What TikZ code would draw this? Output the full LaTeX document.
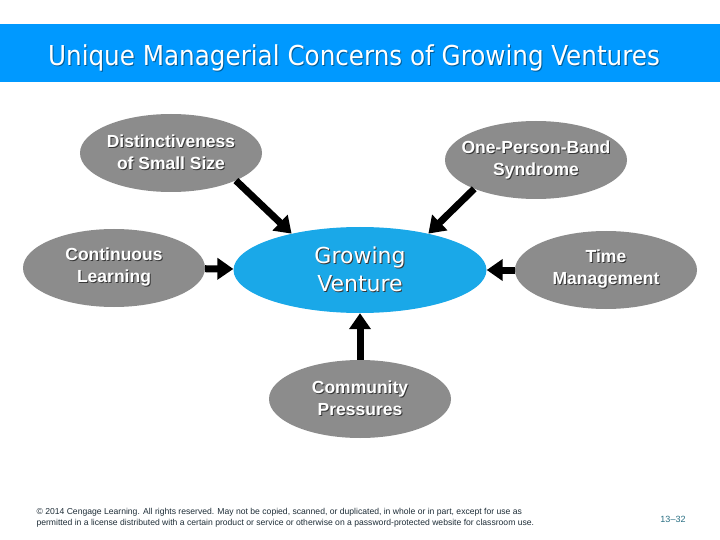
\documentclass[tikz,border=0pt]{standalone}
\usepackage{fontspec}
\setmainfont{Liberation Sans}
\newfontfamily\titlefont{DejaVu Sans Condensed}
\newfontfamily\venturefont{DejaVu Sans}
\usetikzlibrary{shapes.geometric,arrows.meta}
\definecolor{barblue}{RGB}{0,153,255}
\definecolor{ventureblue}{RGB}{26,168,232}
\definecolor{bubblegray}{RGB}{140,140,140}
\definecolor{shadowgray}{RGB}{55,55,55}
\definecolor{footdark}{RGB}{30,45,55}
\definecolor{footteal}{RGB}{40,110,130}
\newcommand{\shtxt}[2][shadowgray]{\leavevmode\rlap{\kern1pt\raisebox{-1pt}{\color{#1}#2}}#2}
\tikzset{
  flowarrow/.style={-{Triangle[length=16pt,width=21pt]}, line width=7pt},
  concern/.style={ellipse, fill=bubblegray, text=white, minimum width=182pt, minimum height=78pt, inner xsep=-15pt, inner ysep=-10pt, align=center, font=\bfseries\fontsize{17.5}{22}\selectfont},
  venture/.style={ellipse, fill=ventureblue, text=white, minimum width=253pt, minimum height=86pt, inner sep=0pt, align=center, font=\venturefont\fontsize{22}{28}\selectfont},
  footnote/.style={anchor=west, align=left, text=footdark, font=\fontsize{8.6}{11}\selectfont}
}

\begin{document}
\begin{tikzpicture}[x=1pt, y=-1pt]
  \useasboundingbox (0,0) rectangle (720,540);
  \fill[barblue] (0,24) rectangle (720,82);
  \node[text=white, anchor=base, font=\titlefont\fontsize{27.4}{32}\selectfont] (title) at (354,66) {\shtxt[barblue!60!black]{Unique Managerial Concerns of Growing Ventures}};

  \node[venture] (grow) at (360,270) {\shtxt{Growing}\\\shtxt{Venture}};
  \node[concern] (dist) at (171,153) {\shtxt{Distinctiveness}\\\shtxt{of Small Size}};
  \node[concern] (band) at (536,160) {\shtxt{One-Person-Band}\\\shtxt{Syndrome}};
  \node[concern] (cont) at (114,268) {\shtxt{Continuous}\\\shtxt{Learning}};
  \node[concern] (time) at (606,270) {\shtxt{Time}\\\shtxt{Management}};
  \node[concern] (comm) at (360,399) {\shtxt{Community}\\\shtxt{Pressures}};

  \draw[flowarrow] (dist.-23) -- (grow.152);
  \draw[flowarrow] (band.-155) -- (grow.28);
  \draw[flowarrow] (cont) -- (grow);
  \draw[flowarrow] (time) -- (grow);
  \draw[flowarrow] (comm) -- (grow);

  \node[footnote] (copy) at (33,518) {\textcopyright{} 2014 Cengage Learning. All rights reserved. May not be copied, scanned, or duplicated, in whole or in part, except for use as\\permitted in a license distributed with a certain product or service or otherwise on a password-protected website for classroom use.};
  \node[text=footteal, font=\fontsize{9}{11}\selectfont] (page) at (673,519) {13--32};
\end{tikzpicture}
\end{document}
